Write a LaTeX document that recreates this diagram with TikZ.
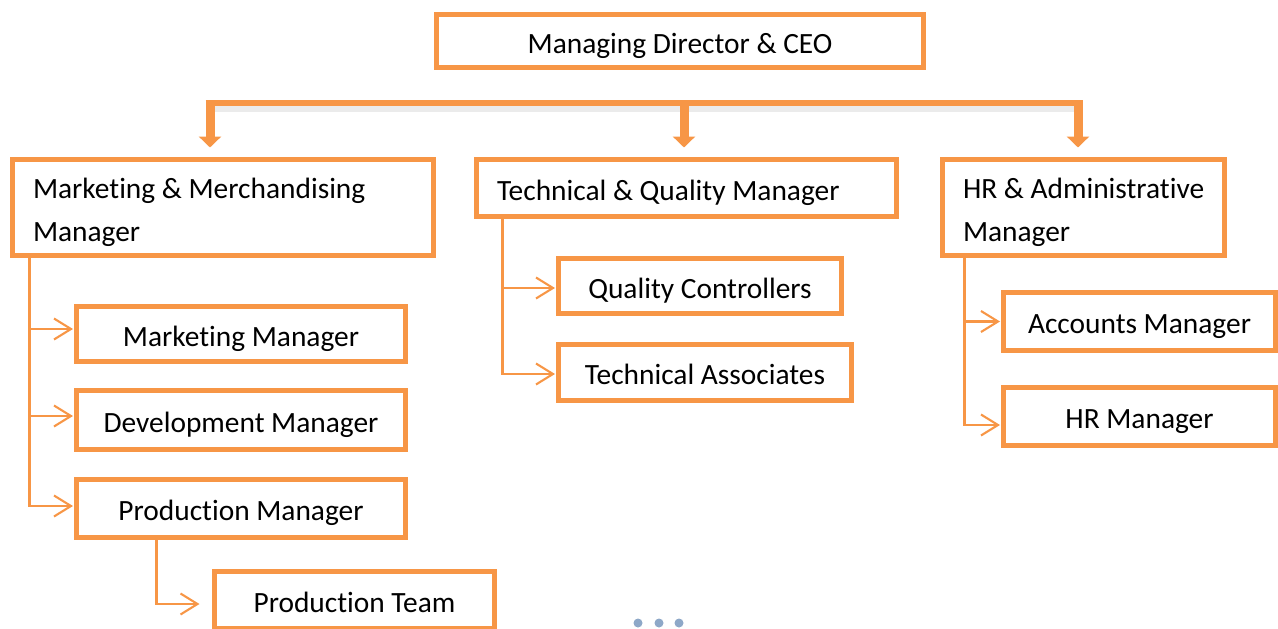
\documentclass[tikz,border=0pt]{standalone}
\usepackage{fontspec}
\setmainfont{Carlito}[Ligatures=NoCommon]
\usetikzlibrary{arrows.meta}
\definecolor{accent}{HTML}{F79646}
\definecolor{dotgray}{HTML}{8EA8C8}
\begin{document}
\begin{tikzpicture}[x=1pt,y=-1pt,
  box/.style={draw=accent, line width=5pt, fill=white, inner sep=0pt, text=black,
              font=\fontsize{29.4}{43}\selectfont, text height=26pt, text depth=2pt},
  lbox/.style={box, align=flush left},
  twoline/.style={text depth=45pt},
  link/.style={draw=accent, line width=2.1pt, -{Straight Barb[length=17pt,width=21pt]}},
  drop/.style={draw=accent, line width=9pt, -{Triangle[length=11pt,width=22pt]}, shorten >=9.5pt},
  busline/.style={draw=accent, line width=6pt},
  busshadow/.style={draw=black, opacity=0.08, line width=6pt},
]
\useasboundingbox (0,0) rectangle (1278,629);

% top level
\node[box, minimum width=487pt, minimum height=53pt] (ceo) at (680,41) {Managing Director \& CEO};

% department heads
\node[lbox, twoline, minimum width=421pt, minimum height=96pt, text width=380pt] (mkt) at (223,207.5)
  {\mbox{Marketing \& Merchandising}\\Manager};
\node[lbox, minimum width=420pt, minimum height=57pt, text width=379pt] (tech) at (686.5,188)
  {Technical \& Quality Manager};
\node[lbox, twoline, minimum width=282pt, minimum height=96pt, text width=241pt] (hr) at (1083.5,207.5)
  {\mbox{HR \& Administrative}\\Manager};

% marketing branch
\node[box, minimum width=329pt, minimum height=55pt] (mktm) at (241,334) {Marketing Manager};
\node[box, minimum width=329pt, minimum height=59pt] (devm) at (241,420) {Development Manager};
\node[box, minimum width=329pt, minimum height=58pt] (prodm) at (241,508.5) {Production Manager};
\node[box, minimum width=280pt, minimum height=57pt] (prodt) at (354.5,600) {Production Team};

% technical branch
\node[box, minimum width=283pt, minimum height=55pt] (qc) at (700,286) {Quality Controllers};
\node[box, minimum width=293pt, minimum height=56pt] (ta) at (705,372.5) {Technical Associates};

% HR branch
\node[box, minimum width=272pt, minimum height=58pt] (acc) at (1139.5,321.5) {Accounts Manager};
\node[box, minimum width=272pt, minimum height=58pt] (hrm) at (1139.5,416.5) {HR Manager};

% distribution bar under the CEO
\coordinate (busL) at (205.5,103);
\coordinate (busR) at (1082.5,103);
\coordinate (shL) at (212,108.5);
\coordinate (shR) at (1082.5,108.5);
\coordinate (dL) at (210,103);
\coordinate (dM) at (684,103);
\coordinate (dR) at (1078,103);
\draw[busshadow] (shL) -- (shR);
\draw[busline] (busL) -- (busR);
\draw[drop] (dL) -- (dL |- mkt.north);
\draw[drop] (dM) -- (dM |- tech.north);
\draw[drop] (dR) -- (dR |- hr.north);

% branch connectors
\draw[link, shorten >=1pt] ([xshift=19.5pt]mkt.south west) |- ([yshift=5pt]mktm.west);
\draw[link, shorten >=1pt] ([xshift=19.5pt]mkt.south west) |- ([yshift=4pt]devm.west);
\draw[link, shorten >=1pt] ([xshift=19.5pt]mkt.south west) |- ([yshift=2.5pt]prodm.west);
\draw[link, shorten >=12.5pt] ([xshift=82.5pt]prodm.south west) |- ([yshift=-4pt]prodt.west);

\draw[link, shorten >=1pt] ([xshift=28.5pt]tech.south west) |- ([yshift=-2pt]qc.west);
\draw[link, shorten >=1pt] ([xshift=28.5pt]tech.south west) |- ([yshift=-1.5pt]ta.west);

\draw[link, shorten >=1pt] ([xshift=24.5pt]hr.south west) |- (acc.west);
\draw[link, shorten >=1pt] ([xshift=24.5pt]hr.south west) |- ([yshift=-8.5pt]hrm.west);

% continuation marks
\coordinate (m1) at (638,623);
\coordinate (m2) at (659,623);
\coordinate (m3) at (679,623);
\fill[dotgray] (m1) circle (4.5pt) (m2) circle (4.5pt) (m3) circle (4.5pt);
\end{tikzpicture}
\end{document}
